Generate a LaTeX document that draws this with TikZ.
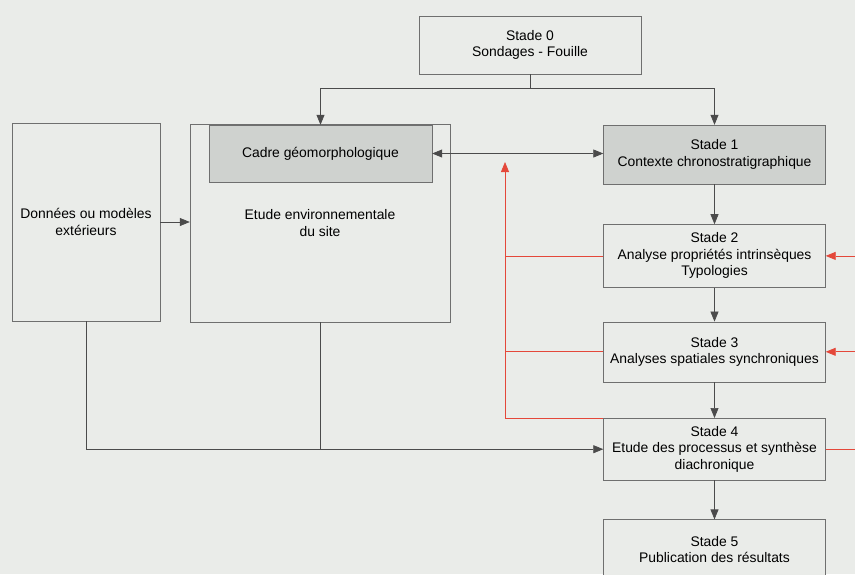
\documentclass[tikz,border=0pt]{standalone}
\usepackage{fontspec}
\setmainfont{Liberation Sans}
\usetikzlibrary{positioning,arrows.meta}
\definecolor{paper}{RGB}{234,236,233}
\definecolor{shade}{RGB}{207,210,207}
\definecolor{wire}{RGB}{75,75,75}
\definecolor{feedback}{RGB}{228,72,58}

\begin{document}
\begin{tikzpicture}
    [ x = 1pt, y = -1pt
    , font = \fontsize{13.9}{16.5}\selectfont
    , > = {Triangle[length=10pt,width=8pt]}
    , box/.style =
      { draw=wire!80, fill=paper, align=center, inner sep=0pt,
        minimum width=222pt, minimum height=60pt }
    , shaded/.style =
      { fill=shade }
    , link/.style =
      { draw=wire, line width=.7pt }
    , back/.style =
      { draw=feedback, line width=.8pt }
    ]
    \fill [paper] (0,0) rectangle (855,574);
    \useasboundingbox (0,0) rectangle (855,574);

    \node [box,minimum height=58pt] (s0) at (530,45) {Stade 0\\Sondages - Fouille};
    \node [box,shaded,minimum height=59pt] (s1) at (714.5,154.5) {Stade 1\\Contexte chronostratigraphique};
    \node [box,minimum height=63pt] (s2) [below=40pt of s1] {Stade 2\\Analyse propriétés intrinsèques\\Typologies};
    \node [box] (s3) [below=34pt of s2] {Stade 3\\Analyses spatiales synchroniques};
    \node [box,minimum height=62pt] (s4) [below=36pt of s3] {Stade 4\\Etude des processus et synthèse\\diachronique};
    \node [box] (s5) [below=39pt of s4] {Stade 5\\Publication des résultats};

    \node [box,minimum width=148pt,minimum height=198pt] (don) at (86,222) {Données ou modèles\\extérieurs};
    \node [box,minimum width=260pt,minimum height=198pt] (etude) at (320,223) {Etude environnementale\\du site};
    \node [box,shaded,minimum width=223pt,minimum height=57pt] (cadre) at (320.5,153.5) {Cadre géomorphologique};

    \coordinate (top) at (505,162);
    \coordinate (edge) at (855,0);

    \draw [link,->] (s0.south) -- ++(0,14) -| (cadre.north);
    \draw [link,->] (s0.south) -- ++(0,14) -| (s1.north);
    \draw [link,<->] (cadre.east) -- (cadre.east -| s1.west);
    \draw [link,->] (don.east) -- (don.east -| etude.west);
    \draw [link,->] (s1) -- (s2);
    \draw [link,->] (s2) -- (s3);
    \draw [link,->] (s3) -- (s4);
    \draw [link,->] (s4) -- (s5);
    \draw [link] (don.south) |- (etude.south |- s4.west);
    \draw [link,->] (etude.south) |- (s4.west);

    \draw [back,->] (s4.north west) -| (top);
    \draw [back] (s2.west) -- (s2.west -| top);
    \draw [back] (s3.west) -- (s3.west -| top);
    \draw [back,<-] (s2.east) -- (s2.east -| edge);
    \draw [back,<-] (s3.east) -- (s3.east -| edge);
    \draw [back] (s4.east) -- (s4.east -| edge);
\end{tikzpicture}
\end{document}
